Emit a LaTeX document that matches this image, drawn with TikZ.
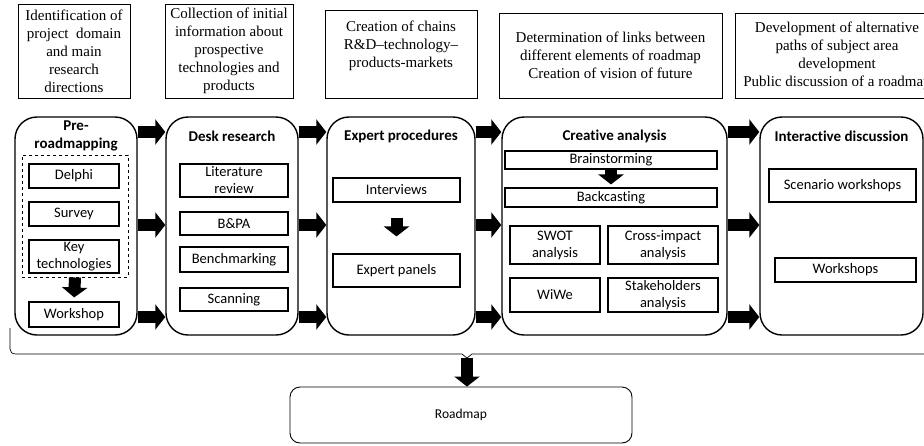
\documentclass[tikz,border=0pt]{standalone}
\usepackage{fontspec}
\setmainfont{Carlito}[Ligatures={NoCommon}]
\newfontfamily\timesfont{Liberation Serif}
\usetikzlibrary{arrows.meta}

\begin{document}
\begin{tikzpicture}[x=1pt, y=-1pt,
                    task/.style={draw, line width=0.9pt, align=center, inner sep=0pt,
                    font=\timesfont\fontsize{15}{18}\selectfont},
                    stage/.style={draw, line width=1.4pt, rounded corners=22pt,
                    minimum height=218pt},
                    stagetitle/.style={align=center, font=\bfseries\fontsize{15}{18}\selectfont},
                    method/.style={draw, line width=1.1pt, align=center, inner sep=0pt,
                    font=\fontsize{14.5}{17}\selectfont},
                    blockarrow/.style={line width=12pt, -{Triangle[length=10pt, width=25pt]}}]
    \useasboundingbox (0,0) rectangle (924,445);
    \clip (0,0) rectangle (924,445);

    \node[task, minimum width=112pt, minimum height=94pt] (domain) at (74,51)
        {Identification of\\project\ \ domain\\and main\\research\\directions};
    \node[task, minimum width=128pt, minimum height=94pt] (collect) at (229,51)
        {Collection of initial\\information about\\prospective\\technologies and\\products};
    \node[task, minimum width=152pt, minimum height=88pt] (chains) at (401,54) {};
    \node[task, draw=none] at ([yshift=-36pt]chains.north)
        {Creation of chains\\R\&D–technology–\\products-markets};
    \node[task, minimum width=223pt, minimum height=85pt] (links) at (610.5,55.5)
        {Determination of links between\\different elements of roadmap\\Creation of vision of future};
    \node[task, minimum width=204pt, minimum height=85pt] (paths) at (837,55.5)
        {Development of alternative\\paths of subject area\\development\\Public discussion of a roadmap};

    \node[stage, minimum width=122pt] (pre) at (76,226) {};
    \node[stage, minimum width=132pt] (desk) at (232,226) {};
    \node[stage, minimum width=148pt] (expert) at (401,226) {};
    \node[stage, minimum width=225pt] (creative) at (614.5,226) {};
    \node[stage, minimum width=163pt] (inter) at (841.5,226) {};

    \node[stagetitle] at (76,136) {Pre-\\roadmapping};
    \node[stagetitle] at ([yshift=-20pt]desk.north) {Desk research};
    \node[stagetitle] at ([yshift=-20pt]expert.north) {Expert procedures};
    \node[stagetitle] at ([yshift=-20pt]creative.north) {Creative analysis};
    \node[stagetitle] at ([yshift=-20pt]inter.north) {Interactive discussion};

    \node[draw, dashed, line width=1pt, minimum width=106pt, minimum height=122pt] (tools) at (75,216) {};
    \node[method, minimum width=90pt, minimum height=24pt] (delphi) at (74,176) {Delphi};
    \node[method, minimum width=90pt, minimum height=24pt] (survey) at (74,214) {Survey};
    \node[method, minimum width=90pt, minimum height=33pt] (keytech) at (74,256.5) {Key\\technologies};
    \node[method, minimum width=90pt, minimum height=25pt] (workshop) at (74,314.5) {Workshop};

    \node[method, minimum width=108pt, minimum height=33pt] (litreview) at (234,180.5) {Literature\\review};
    \node[method, minimum width=108pt, minimum height=23pt] (bpa) at (234,223.5) {B\&PA};
    \node[method, minimum width=108pt, minimum height=25pt] (bench) at (234,259.5) {Benchmarking};
    \node[method, minimum width=108pt, minimum height=23pt] (scan) at (234,299.5) {Scanning};

    \node[method, minimum width=127pt, minimum height=24pt] (interviews) at (396.5,190) {Interviews};
    \node[method, minimum width=127pt, minimum height=33pt] (panels) at (396.5,270.5) {Expert panels};

    \node[method, minimum width=212pt, minimum height=18pt] (brainstorm) at (611,160) {Brainstorming};
    \node[method, minimum width=212pt, minimum height=19pt] (backcast) at (611,197.5) {Backcasting};
    \node[method, minimum width=90pt, minimum height=38pt] (swot) at (555,245) {SWOT\\analysis};
    \node[method, minimum width=110pt, minimum height=38pt] (cross) at (663,245) {Cross-impact\\analysis};
    \node[method, minimum width=90pt, minimum height=34pt] (wiwe) at (555,295) {WiWe};
    \node[method, minimum width=110pt, minimum height=34pt] (stake) at (663,295) {Stakeholders\\analysis};

    \node[method, minimum width=147pt, minimum height=33pt] (scenario) at (842.5,185.5) {Scenario workshops};
    \node[method, minimum width=141pt, minimum height=24pt] (workshops) at (845.5,270) {Workshops};

    \node[draw, line width=0.9pt, rounded corners=10pt, minimum width=342pt, minimum height=56pt,
          font=\fontsize{13.5}{15}\selectfont] (roadmap) at (461,415) {Roadmap};

    \foreach \from/\to in {pre/desk, desk/expert, expert/creative, creative/inter}
        \foreach \y in {132,225,317}
            \draw[blockarrow] (\from.east |- 0,\y) -- (\to.west |- 0,\y);

    \draw[blockarrow, shorten >=4pt] (tools.south) -- (workshop.north);
    \draw[blockarrow, shorten <=15pt, shorten >=17pt] (interviews.south) -- (panels.north);
    \draw[blockarrow, shorten >=3pt] (brainstorm.south) -- (backcast.north);

    \coordinate (bracetip) at (467,358);
    \draw[line width=0.7pt] (10,328) -- (10,349) .. controls (10,352) and (12,354) .. (16,354)
        -- (462,354) -- (bracetip) -- (472,354) -- (930,354);
    \draw[blockarrow] (bracetip) -- (bracetip |- roadmap.north);
\end{tikzpicture}
\end{document}
